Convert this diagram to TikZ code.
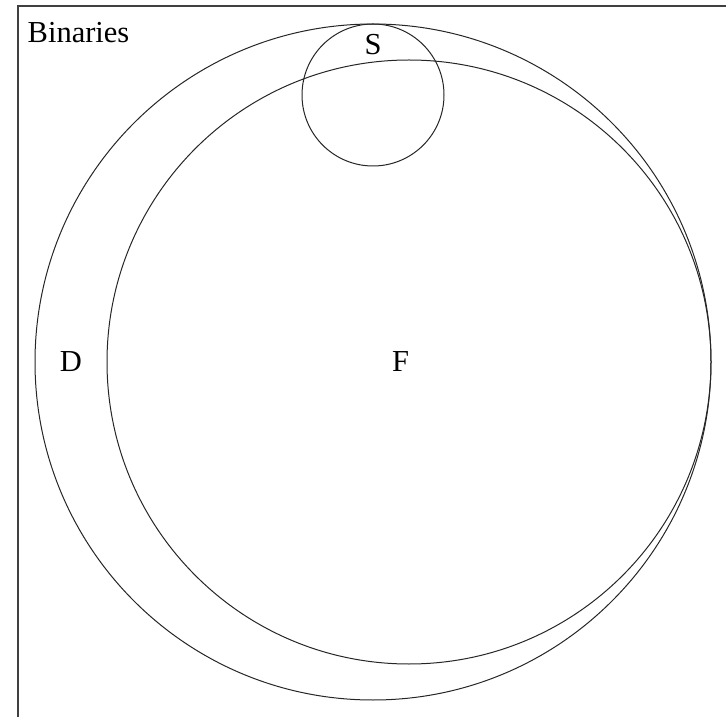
\documentclass[tikz,border=0pt]{standalone}
\usepackage{fontspec}
\setmainfont{Liberation Serif}
\begin{document}
\begin{tikzpicture}[x=1pt,y=1pt,
  setline/.style={line width=1pt, draw=black!85},
  frameline/.style={line width=2pt, draw=black!75},
  lbl/.style={inner sep=0pt, font=\fontsize{30.5}{36}\selectfont}]
\useasboundingbox (0,0) rectangle (726,716);
\clip (0,0) rectangle (726,716);
\draw[frameline] (17.5,-20) rectangle (760,710);
\coordinate (Dc) at (373,354);
\coordinate (Fc) at (409,354);
\coordinate (Sc) at (373,621);
\draw[setline] (Dc) circle[radius=338];
\draw[setline] (Fc) circle[radius=302];
\draw[setline] (Sc) circle[radius=71];
\node[lbl, anchor=base west] (bin) at (27.5,673) {Binaries};
\node[lbl] (S) at (373,671.5) {S};
\node[lbl] (D) at (71,354.5) {D};
\node[lbl] (F) at (400.5,354.3) {F};
\end{tikzpicture}
\end{document}
